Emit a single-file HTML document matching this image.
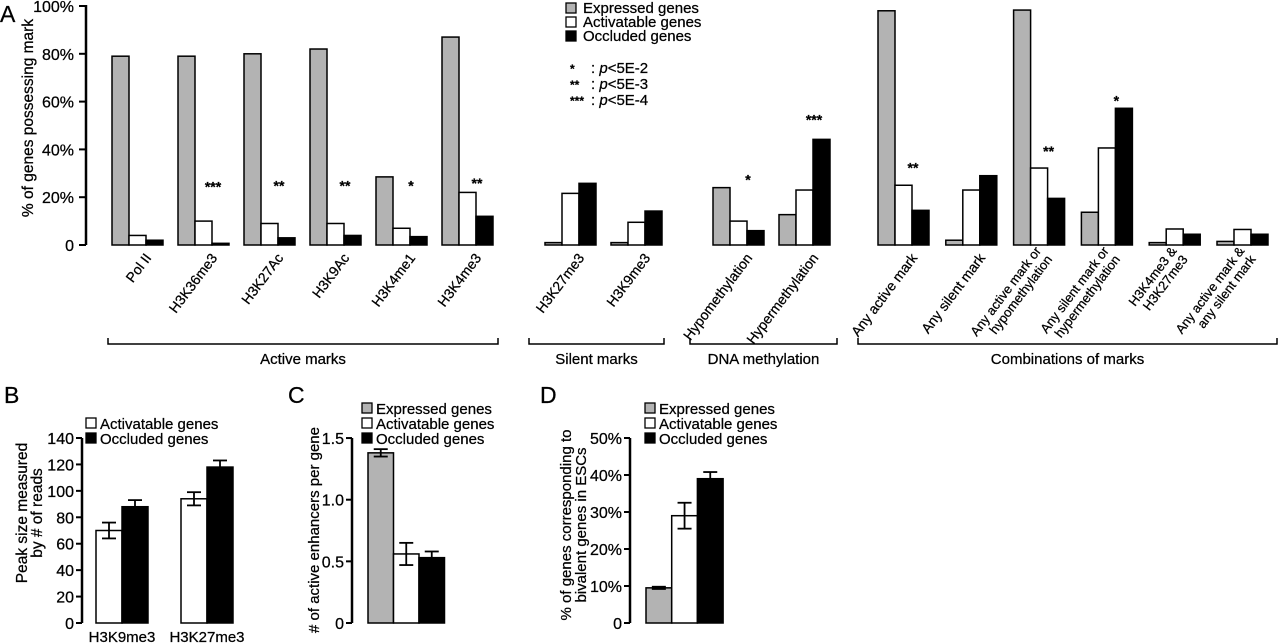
<!DOCTYPE html>
<html><head><meta charset="utf-8"><style>
body{margin:0;background:#fff}
svg{display:block;font-family:"Liberation Sans",Arial,sans-serif}
text{stroke:#000;stroke-width:0.25px}
</style></head><body>
<svg id="fig" width="1280" height="643" viewBox="0 0 1280 643"></svg>
<script>
// ---- Panel A data ----
const aCategories=["Pol II","H3K36me3","H3K27Ac","H3K9Ac","H3K4me1","H3K4me3","H3K27me3","H3K9me3","Hypomethylation","Hypermethylation","Any active mark","Any silent mark","Any active mark or|hypomethylation","Any silent mark or|hypermethylation","H3K4me3 &|H3K27me3","Any active mark &|any silent mark"];
const aSection=[0,0,0,0,0,0,1,1,2,2,3,3,3,3,3,3];
const aExpressed=[79,79,80,82,28.5,87,1,1,24,12.7,98,2,98.3,13.7,1,1.5];
const aActivatable=[4,10,9,9,7,22,21.6,9.5,10,23,25,23,32.2,40.6,6.7,6.5];
const aOccluded=[2,0.7,3,4,3.5,12,25.8,14.2,6,44.2,14.5,29,19.5,57.2,4.5,4.5];
const aStars=["","***","**","**","*","**","","","*","***","**","","**","*","",""];
const aStarLevel=[0,24,24.5,24.5,24.5,25.5,0,0,27,52,32,0,39,60,0,0];
const aTicks=[0,20,40,60,80,100];
const aTickLabels=["0","20%","40%","60%","80%","100%"];
const sectionNames=["Active marks","Silent marks","DNA methylation","Combinations of marks"];
// ---- Panel B data ----
const bCategories=["H3K9me3","H3K27me3"];
const bActivatable=[70,94];const bActErr=[6,5];
const bOccluded=[88,118];const bOccErr=[5,5];
const bTicks=[0,20,40,60,80,100,120,140];
// ---- Panel C data ----
const cValues=[1.38,0.56,0.53];const cErr=[0.03,0.09,0.05];
const cTicks=[0,0.5,1.0,1.5];const cTickLabels=["0","0.5","1.0","1.5"];
// ---- Panel D data ----
const dValues=[9.5,29,39];const dErr=[0.3,3.5,1.8];
const dTicks=[0,10,20,30,40,50];const dTickLabels=["0","10%","20%","30%","40%","50%"];

const NS="http://www.w3.org/2000/svg";
const svg=document.getElementById("fig");
function mk(tag,attrs,parent,text){const e=document.createElementNS(NS,tag);for(const k in attrs)e.setAttribute(k,attrs[k]);if(text!==undefined)e.textContent=text;(parent||svg).appendChild(e);return e;}
const fills=["#b3b3b3","#ffffff","#000000"];

// ===== Panel A =====
const aY=v=>245-v*2.39;
const secStart=[112,545,713,878],secStep=[66,66,66,67.8];
function aGroupX(i){const s=aSection[i];const first=aSection.indexOf(s);return secStart[s]+(i-first)*secStep[s];}
let t=mk("text",{x:0,y:22,"font-size":23},svg,"A");

let ax=mk("line",{x1:86,y1:5,x2:86,y2:245,stroke:"#000","stroke-width":2.5});

aTicks.forEach((v,k)=>{
  const tk=mk("line",{x1:79,x2:86,y1:aY(v),y2:aY(v),stroke:"#000","stroke-width":2});
  
  const tl=mk("text",{x:74,y:aY(v)+6,"text-anchor":"end","font-size":16},svg,aTickLabels[k]);
  
});
t=mk("text",{transform:"translate(33,118) rotate(-90)","text-anchor":"middle","font-size":15.5},svg,"% of genes possessing mark");

const series=[aExpressed,aActivatable,aOccluded];
aCategories.forEach((c,i)=>{
  const gx=aGroupX(i);
  series.forEach((arr,s)=>{
    const v=arr[i];const y=aY(v);
    const r=mk("rect",{x:gx+s*17,y:y,width:17,height:Math.max(245-y,0.5),fill:fills[s],stroke:"#000","stroke-width":1.5});
    
    
  });
  if(aStars[i]){
    const st=mk("text",{x:gx+35,y:aY(aStarLevel[i])+4,"text-anchor":"middle","font-size":14,"font-weight":"bold"},svg,aStars[i]);
    
  }
  const lines=c.split("|");
  const two=lines.length>1;
  const lx=gx+(two?28:40),ly=two?251:258;
  const lt=mk("text",{transform:`translate(${lx},${ly}) rotate(-53)`,"text-anchor":"end","font-size":two?13:14});
  
  lines.forEach((ln,k)=>mk("tspan",{x:0,dy:k?14:0},lt,ln));
});
// brackets
const brX=[[108,498],[529,664],[690,837],[858,1277]];
brX.forEach((b,k)=>{
  const p=mk("path",{d:`M${b[0]},338 V344 H${b[1]} V338`,fill:"none",stroke:"#000","stroke-width":1.5});
  
  const tt=mk("text",{x:(b[0]+b[1])/2,y:364,"text-anchor":"middle","font-size":15},svg,sectionNames[k]);
  
});
// legend A
const legNames=["Expressed genes","Activatable genes","Occluded genes"];
legNames.forEach((n,k)=>{
  const r=mk("rect",{x:566,y:3+k*14,width:10,height:10,fill:fills[k],stroke:"#000","stroke-width":1.3});
  
  const tx=mk("text",{x:583,y:13+k*14,"font-size":15},svg,n);
  
});
const sigKeys=["*","**","***"],sigText=["5E-2","5E-3","5E-4"];
sigKeys.forEach((s,k)=>{
  const a=mk("text",{x:570,y:73+k*16,"font-size":12,"font-weight":"bold"},svg,s);
  
  const b=mk("text",{x:591,y:73+k*16,"font-size":15});
  
  mk("tspan",{},b,": ");mk("tspan",{"font-style":"italic"},b,"p");mk("tspan",{},b,"<"+sigText[k]);
});

// ===== generic small panel =====
function errBar(cx,v,e,yf){
  const g=mk("g",{stroke:"#000","stroke-width":1.8});
  
  mk("line",{x1:cx,x2:cx,y1:yf(v+e),y2:yf(v-e)},g);
  mk("line",{x1:cx-7,x2:cx+7,y1:yf(v+e),y2:yf(v+e)},g);
  mk("line",{x1:cx-7,x2:cx+7,y1:yf(v-e),y2:yf(v-e)},g);
}
function axis(x,ticks,labels,yf,name){
  const l=mk("line",{x1:x,x2:x,y1:yf(ticks[ticks.length-1]),y2:yf(0),stroke:"#000","stroke-width":2.5});
  
  ticks.forEach((v,k)=>{
    const tk=mk("line",{x1:x-6,x2:x,y1:yf(v),y2:yf(v),stroke:"#000","stroke-width":2});
    
    const tl=mk("text",{x:x-8,y:yf(v)+6,"text-anchor":"end","font-size":16},svg,labels[k]);
    
  });
}
function legend(x,y0,idx){
  idx.forEach((s,k)=>{
    const r=mk("rect",{x:x,y:y0+k*15-5,width:10,height:10,fill:fills[s],stroke:"#000","stroke-width":1.3});
    
    const tx=mk("text",{x:x+14,y:y0+k*15+6,"font-size":15},svg,legNames[s]);
    
  });
}
// ===== Panel B =====
const bY=v=>623-v*185/140;
t=mk("text",{x:4,y:403,"font-size":23},svg,"B");
axis(82,bTicks,bTicks.map(String),bY,"b");
t=mk("text",{transform:"translate(27,513) rotate(-90)","text-anchor":"middle","font-size":15.5});

mk("tspan",{x:0,dy:0},t,"Peak size measured");mk("tspan",{x:0,dy:15},t,"by # of reads");
bCategories.forEach((c,i)=>{
  const gx=96+i*85;
  [[bActivatable,bActErr,1],[bOccluded,bOccErr,2]].forEach(([arr,er,s],k)=>{
    const r=mk("rect",{x:gx+k*26,y:bY(arr[i]),width:26,height:623-bY(arr[i]),fill:fills[s],stroke:"#000","stroke-width":1.5});
    
    errBar(gx+k*26+13,arr[i],er[i],bY);
  });
  const tl=mk("text",{x:gx+26,y:642,"text-anchor":"middle","font-size":15},svg,c);
  
});
legend(86,423,[1,2]);
// ===== Panel C =====
const cY=v=>623-v*123.3;
t=mk("text",{x:288,y:403,"font-size":23},svg,"C");
axis(352,cTicks,cTickLabels,cY,"c");
t=mk("text",{transform:"translate(319,530) rotate(-90)","text-anchor":"middle","font-size":15},svg,"# of active enhancers per gene");

cValues.forEach((v,i)=>{
  const r=mk("rect",{x:368+i*25.5,y:cY(v),width:25.5,height:623-cY(v),fill:fills[i],stroke:"#000","stroke-width":1.5});
  
  errBar(368+i*25.5+12.75,v,cErr[i],cY);
});
legend(362,408,[0,1,2]);
// ===== Panel D =====
const dY=v=>623-v*3.7;
t=mk("text",{x:540,y:403,"font-size":23},svg,"D");
axis(630,dTicks,dTickLabels,dY,"d");
t=mk("text",{transform:"translate(571,525) rotate(-90)","text-anchor":"middle","font-size":15});

mk("tspan",{x:0,dy:0},t,"% of genes corresponding to");mk("tspan",{x:0,dy:15},t,"bivalent genes in ESCs");
dValues.forEach((v,i)=>{
  const r=mk("rect",{x:646+i*25.7,y:dY(v),width:25.7,height:623-dY(v),fill:fills[i],stroke:"#000","stroke-width":1.5});
  
  errBar(646+i*25.7+12.85,v,dErr[i],dY);
});
legend(645,408,[0,1,2]);
</script>
</body></html>
